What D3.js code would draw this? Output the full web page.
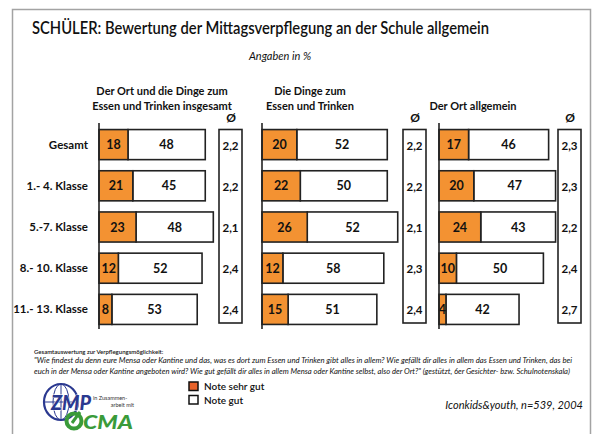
<!DOCTYPE html>
<html lang="de">
<head>
<meta charset="utf-8">
<title>SCHÜLER: Bewertung der Mittagsverpflegung</title>
<script src="https://cdn.jsdelivr.net/npm/d3@7"></script>
<style>
  body { margin: 0; background: #fff; }
  text { font-family: "Lato", "Open Sans", sans-serif; fill: #111; }
</style>
</head>
<body>
<script>
// Data
var categories = ["Gesamt", "1.- 4. Klasse", "5.-7. Klasse", "8.- 10. Klasse", "11.- 13. Klasse"];
var panelTitles = [
  ["Der Ort und die Dinge zum", "Essen und Trinken insgesamt"],
  ["Die Dinge zum", "Essen und Trinken"],
  ["", "Der Ort allgemein"]
];
var sehrGut1 = [18, 21, 23, 12, 8];
var gut1     = [48, 45, 48, 52, 53];
var avg1     = ["2,2", "2,2", "2,1", "2,4", "2,4"];
var sehrGut2 = [20, 22, 26, 12, 15];
var gut2     = [52, 50, 52, 58, 51];
var avg2     = ["2,2", "2,2", "2,1", "2,3", "2,4"];
var sehrGut3 = [17, 20, 24, 10, 4];
var gut3     = [46, 47, 43, 50, 42];
var avg3     = ["2,3", "2,3", "2,2", "2,4", "2,7"];
var legendLabels = ["Note sehr gut", "Note gut"];

var w = 599, h = 434;
var orange = "#f39232";

var svg = d3.select("body").append("svg")
  .attr("width", w).attr("height", h);

// frame (open at bottom)
svg.append("path")
  .attr("d", "M12.5,434 V9.5 H590.5 V434")
  .attr("fill", "none").attr("stroke", "#a3a3a3").attr("stroke-width", 1.5);

// title
svg.append("text").attr("x", 32).attr("y", 34)
  .attr("font-size", 17).attr("font-weight", 600)
  .attr("textLength", 457).attr("lengthAdjust", "spacingAndGlyphs")
  .text("SCHÜLER: Bewertung der Mittagsverpflegung an der Schule allgemein");

svg.append("text").attr("x", 280).attr("y", 60)
  .attr("text-anchor", "middle").attr("font-size", 11).attr("font-style", "italic")
  .text("Angaben in %");

// rows
var y = d3.scaleBand().domain(categories).range([124, 330])
  .paddingInner(0.27).paddingOuter(0.135);

svg.append("g").selectAll("text").data(categories).enter().append("text")
  .attr("x", 88).attr("y", function(d) { return y(d) + y.bandwidth() / 2 + 4; })
  .attr("text-anchor", "end").attr("font-size", 11.5).attr("font-weight", 700)
  .text(function(d) { return d; });

var panels = [
  { x0: 99,  pxPerPct: 1.61, box: 219, cx: 162, s: sehrGut1, g: gut1, a: avg1, t: panelTitles[0] },
  { x0: 262, pxPerPct: 1.74, box: 403, cx: 310, s: sehrGut2, g: gut2, a: avg2, t: panelTitles[1] },
  { x0: 439, pxPerPct: 1.74, box: 558, cx: 473, s: sehrGut3, g: gut3, a: avg3, t: panelTitles[2] }
];

panels.forEach(function(p) {
  var x = d3.scaleLinear().domain([0, 100]).range([p.x0, p.x0 + 100 * p.pxPerPct]);
  var g = svg.append("g");

  // header
  p.t.forEach(function(line, li) {
    g.append("text").attr("x", p.cx).attr("y", 95 + li * 15)
      .attr("text-anchor", "middle").attr("font-size", 11).attr("font-weight", 700)
      .text(line);
  });

  // bars
  var rows = categories.map(function(c, i) { return { cat: c, s: p.s[i], g: p.g[i], a: p.a[i] }; });

  g.selectAll(".gut").data(rows).enter().append("rect")
    .attr("x", function(d) { return x(d.s); })
    .attr("y", function(d) { return y(d.cat); })
    .attr("width", function(d) { return x(d.s + d.g) - x(d.s); })
    .attr("height", y.bandwidth())
    .attr("fill", "#fff").attr("stroke", "#222").attr("stroke-width", 1.6);

  g.selectAll(".sg").data(rows).enter().append("rect")
    .attr("x", x(0))
    .attr("y", function(d) { return y(d.cat); })
    .attr("width", function(d) { return x(d.s) - x(0); })
    .attr("height", y.bandwidth())
    .attr("fill", orange).attr("stroke", "#222").attr("stroke-width", 1.6);

  g.selectAll(".sgl").data(rows).enter().append("text")
    .attr("x", function(d) { return (x(0) + x(d.s)) / 2; })
    .attr("y", function(d) { return y(d.cat) + y.bandwidth() / 2 + 4.5; })
    .attr("text-anchor", "middle").attr("font-size", 12.5).attr("font-weight", 700)
    .text(function(d) { return d.s; });

  g.selectAll(".gl").data(rows).enter().append("text")
    .attr("x", function(d) { return (x(d.s) + x(d.s + d.g)) / 2; })
    .attr("y", function(d) { return y(d.cat) + y.bandwidth() / 2 + 4.5; })
    .attr("text-anchor", "middle").attr("font-size", 12.5).attr("font-weight", 700)
    .text(function(d) { return d.g; });

  // axis line
  g.append("line").attr("x1", x(0)).attr("x2", x(0)).attr("y1", 123).attr("y2", 329)
    .attr("stroke", "#222").attr("stroke-width", 1.6);

  // average box
  g.append("rect").attr("x", p.box).attr("y", 129.5).attr("width", 23).attr("height", 193.5)
    .attr("fill", "#fff").attr("stroke", "#222").attr("stroke-width", 1.6);
  g.append("text").attr("x", p.box + 12).attr("y", 122)
    .attr("text-anchor", "middle").attr("font-size", 12).attr("font-weight", 700)
    .text("Ø");
  g.selectAll(".avg").data(rows).enter().append("text")
    .attr("x", p.box + 11.5)
    .attr("y", function(d) { return y(d.cat) + y.bandwidth() / 2 + 5; })
    .attr("text-anchor", "middle").attr("font-size", 11.5).attr("font-weight", 700)
    .text(function(d) { return d.a; });
});

// footnote
svg.append("text").attr("x", 34).attr("y", 354)
  .attr("font-size", 6).attr("font-weight", 600)
  .text("Gesamtauswertung zur Verpflegungsmöglichkeit:");
svg.append("text").attr("x", 34).attr("y", 363)
  .attr("font-size", 6.8).attr("font-style", "italic")
  .attr("textLength", 538).attr("lengthAdjust", "spacingAndGlyphs")
  .text("\"Wie findest du denn eure Mensa oder Kantine und das, was es dort zum Essen und Trinken gibt alles in allem? Wie gefällt dir alles in allem das Essen und Trinken, das bei");
svg.append("text").attr("x", 34).attr("y", 374)
  .attr("font-size", 6.8).attr("font-style", "italic")
  .attr("textLength", 536).attr("lengthAdjust", "spacingAndGlyphs")
  .text("euch in der Mensa oder Kantine angeboten wird? Wie gut gefällt dir alles in allem Mensa oder Kantine selbst, also der Ort?\" (gestützt, 6er Gesichter- bzw. Schulnotenskala)");

// legend
var legendColors = ["#e8622a", "#fff"];
var leg = svg.append("g").selectAll("g").data(legendLabels).enter().append("g")
  .attr("transform", function(d, i) { return "translate(189," + (382 + i * 13.5) + ")"; });
leg.append("rect").attr("width", 9).attr("height", 8.5)
  .attr("fill", function(d, i) { return legendColors[i]; })
  .attr("stroke", "#111").attr("stroke-width", 1.5);
leg.append("text").attr("x", 15).attr("y", 8).attr("font-size", 10).attr("font-weight", 600)
  .text(function(d) { return d; });

// source
svg.append("text").attr("x", 583).attr("y", 409)
  .attr("text-anchor", "end").attr("font-size", 11).attr("font-style", "italic")
  .text("Iconkids&youth, n=539, 2004");

// logo
var logo = svg.append("g");
var blue = "#2b3990", green = "#3a9b3a";
logo.append("ellipse").attr("cx", 61).attr("cy", 402).attr("rx", 17).attr("ry", 18)
  .attr("fill", "none").attr("stroke", blue).attr("stroke-width", 2.2);
logo.append("ellipse").attr("cx", 61).attr("cy", 402).attr("rx", 8).attr("ry", 18)
  .attr("fill", "none").attr("stroke", blue).attr("stroke-width", 1);
logo.append("line").attr("x1", 44).attr("x2", 78).attr("y1", 402).attr("y2", 402)
  .attr("stroke", blue).attr("stroke-width", 1);
logo.append("line").attr("x1", 61).attr("x2", 61).attr("y1", 384).attr("y2", 420)
  .attr("stroke", blue).attr("stroke-width", 1);
logo.append("text").attr("x", 51).attr("y", 410)
  .attr("font-size", 21).attr("font-weight", 900).attr("font-style", "italic")
  .attr("textLength", 40).attr("lengthAdjust", "spacingAndGlyphs")
  .attr("font-family", "Liberation Sans, sans-serif")
  .attr("stroke", "#fff").attr("stroke-width", 0.8).attr("paint-order", "stroke")
  .style("fill", blue).text("ZMP");
logo.append("text").attr("x", 93).attr("y", 400).attr("font-size", 5.5)
  .style("fill", "#333").text("in Zusammen-");
logo.append("text").attr("x", 134).attr("y", 407).attr("font-size", 5.5).attr("text-anchor", "end")
  .style("fill", "#333").text("arbeit mit");
logo.append("circle").attr("cx", 74).attr("cy", 421).attr("r", 7.5)
  .attr("fill", "none").attr("stroke", green).attr("stroke-width", 4);
logo.append("line").attr("x1", 72).attr("x2", 80).attr("y1", 423).attr("y2", 412)
  .attr("stroke", green).attr("stroke-width", 3);
logo.append("text").attr("x", 83).attr("y", 429)
  .attr("font-size", 19).attr("font-weight", 900).attr("font-style", "italic")
  .attr("textLength", 50).attr("lengthAdjust", "spacingAndGlyphs")
  .attr("font-family", "Liberation Sans, sans-serif")
  .style("fill", green).text("CMA");
</script>
</body>
</html>
